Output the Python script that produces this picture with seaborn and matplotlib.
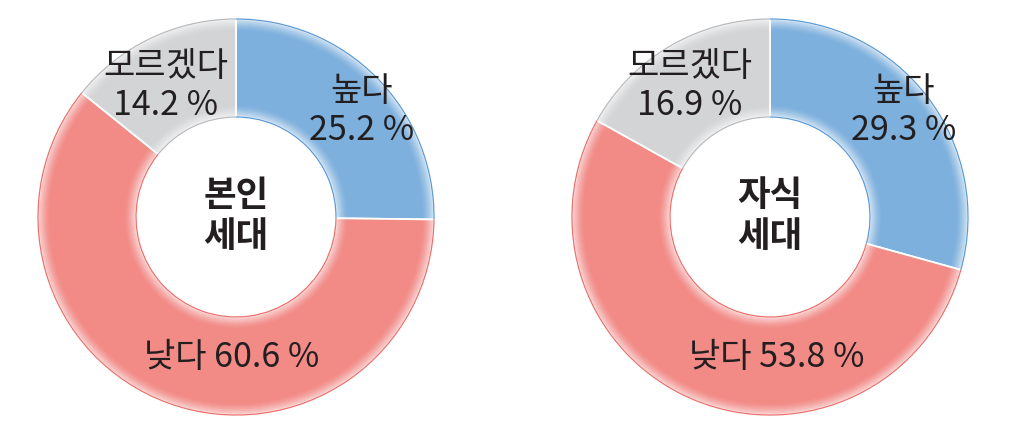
import matplotlib
matplotlib.use("Agg")
import matplotlib.pyplot as plt
from matplotlib.patches import Arc
import seaborn as sns

# survey shares (%), order: 높다, 낮다, 모르겠다
categories = ["높다", "낮다", "모르겠다"]
self_gen = [25.2, 60.6, 14.2]
child_gen = [29.3, 53.8, 16.9]
titles = ["본인\n세대", "자식\n세대"]

fill_colors = ["#7db0dd", "#f28a86", "#d3d4d6"]
edge_colors = ["#5c9ad6", "#ec6f6b", "#b9babc"]

sns.set_theme(style="white")
plt.rcParams['font.family'] = ['Noto Sans CJK KR', 'DejaVu Sans']

fig = plt.figure(figsize=(10.11, 4.32), dpi=100)
ax = fig.add_axes([0, 0, 1, 1])

R_OUT = 198
R_IN = 100
centers = [(236, 215), (770, 215)]
# label anchor points (pixel layout), per chart: high, low, unknown
label_pos = [
    [(362, 321), (232, 75), (166, 346)],
    [(904, 321), (777, 75), (690, 346)],
]


def donut(values, center, title, lpos):
    wedges, _ = ax.pie(values, colors=fill_colors, startangle=90, counterclock=False,
                       radius=R_OUT, center=center,
                       wedgeprops=dict(width=R_OUT - R_IN, edgecolor='white', linewidth=1.3))
    # soft white glow along the outer and inner rims
    n = 12
    for i in range(n):
        a = 0.6 * (1 - i / n) ** 1.6
        ax.pie([1], colors=['white'], radius=R_OUT - i, center=center,
               wedgeprops=dict(width=1.2, alpha=a, linewidth=0))
        ax.pie([1], colors=['white'], radius=R_IN + i + 1.2, center=center,
               wedgeprops=dict(width=1.2, alpha=a, linewidth=0))
    # thin coloured rims
    for w, ec in zip(wedges, edge_colors):
        for r in (R_OUT, R_IN):
            ax.add_patch(Arc(center, 2 * r, 2 * r, theta1=w.theta1, theta2=w.theta2,
                             color=ec, linewidth=0.9))
    txt = dict(ha='center', va='center', color='#231f20', fontsize=24.5, linespacing=1.15)
    hi, lo, unk = lpos
    ax.text(hi[0], hi[1], "%s\n%.1f %%" % (categories[0], values[0]), **txt)
    ax.text(lo[0], lo[1], "%s %.1f %%" % (categories[1], values[1]), **txt)
    ax.text(unk[0], unk[1], "%s\n%.1f %%" % (categories[2], values[2]), **txt)
    ax.text(center[0], center[1] + 1, title, ha='center', va='center', color='#231f20',
            fontsize=25.5, fontweight='bold', linespacing=1.2)


donut(self_gen, centers[0], titles[0], label_pos[0])
donut(child_gen, centers[1], titles[1], label_pos[1])

ax.set_xlim(0, 1011)
ax.set_ylim(0, 432)
ax.set_aspect('equal')
ax.axis('off')

fig.savefig("out.png", dpi=100)
